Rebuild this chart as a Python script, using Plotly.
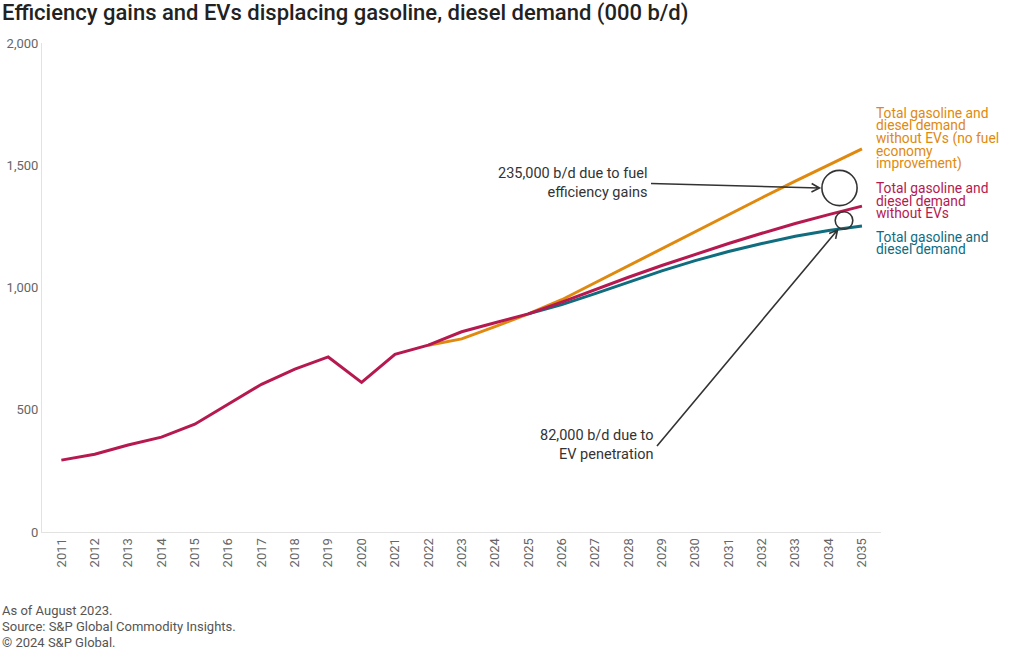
import numpy as np
import plotly.graph_objects as go

# ---------------- data ----------------
years_hist = [2011, 2012, 2013, 2014, 2015, 2016, 2017, 2018, 2019, 2020, 2021, 2022, 2023, 2024, 2025]
red_hist = [294, 318, 356, 388, 441, 522, 604, 666, 716, 612, 727, 764, 819, 856, 892]

years_fut = [2026, 2027, 2028, 2029, 2030, 2031, 2032, 2033, 2034, 2035]
red_fut = [940, 992, 1042, 1090, 1136, 1180, 1222, 1262, 1298, 1333]

orange_years = [2022, 2023, 2024, 2025, 2026, 2027, 2028, 2029, 2030, 2031, 2032, 2033, 2034, 2035]
orange_vals = [764, 790, 840, 892, 950, 1020, 1090, 1160, 1228, 1298, 1367, 1435, 1502, 1567]

teal_years = [2025, 2026, 2027, 2028, 2029, 2030, 2031, 2032, 2033, 2034, 2035]
teal_vals = [892, 930, 975, 1023, 1068, 1110, 1147, 1180, 1210, 1233, 1252]

x_ticks = list(range(2011, 2036))
y_ticks = [0, 500, 1000, 1500, 2000]
y_ticklabels = ["0", "500", "1,000", "1,500", "2,000"]

title = "Efficiency gains and EVs displacing gasoline, diesel demand (000 b/d)"
footer = ["As of August 2023.", "Source: S&P Global Commodity Insights.", "\u00a9 2024 S&P Global."]
label_orange = ["Total gasoline and", "diesel demand", "without EVs (no fuel", "economy", "improvement)"]
label_red = ["Total gasoline and", "diesel demand", "without EVs"]
label_teal = ["Total gasoline and", "diesel demand"]

ORANGE = "#E0890F"
RED = "#B5194F"
TEAL = "#0F6D7F"
DARK = "#333333"
FONT = "Roboto"

# ---------------- geometry helpers (pixels -> paper) ----------------
L, R, T, B = 42, 881, 43, 532
W, H = R - L, B - T


def px(xp):
    return (xp - L) / W


def py(yp):
    return (B - yp) / H


red_years = years_hist + years_fut
red_vals = red_hist + red_fut

fig = go.Figure()
fig.add_trace(go.Scatter(x=orange_years, y=orange_vals, mode="lines",
                         line=dict(color=ORANGE, width=3), hoverinfo="skip"))
fig.add_trace(go.Scatter(x=teal_years, y=teal_vals, mode="lines",
                         line=dict(color=TEAL, width=3), hoverinfo="skip"))
fig.add_trace(go.Scatter(x=red_years, y=red_vals, mode="lines",
                         line=dict(color=RED, width=3), hoverinfo="skip"))

annotations = []
shapes = []

# title
annotations.append(dict(text=title, x=px(0), y=py(13), xref="paper", yref="paper",
                        xanchor="left", yanchor="middle", showarrow=False,
                        font=dict(family=FONT, size=22, color="#222222", weight=500)))

# footer
for i, line in enumerate(footer):
    annotations.append(dict(text=line, x=px(0), y=py(610 + 16 * i), xref="paper", yref="paper",
                            xanchor="left", yanchor="middle", showarrow=False,
                            font=dict(family=FONT, size=13, color="#555555")))

# right-hand series labels (one annotation per line for tight leading)
for lines, color, y0, step in [(label_orange, ORANGE, 112.5, 12.8),
                               (label_red, RED, 188.5, 12.3),
                               (label_teal, TEAL, 237, 12.3)]:
    for i, line in enumerate(lines):
        annotations.append(dict(text=line, x=px(874), y=py(y0 + step * i), xref="paper", yref="paper",
                                xanchor="left", yanchor="middle", showarrow=False,
                                font=dict(family=FONT, size=13.8, color=color)))

# callout texts
annotations.append(dict(text="235,000 b/d due to fuel<br>efficiency gains", x=px(649), y=py(183),
                        xref="paper", yref="paper", xanchor="right", yanchor="middle", align="right",
                        showarrow=False, font=dict(family=FONT, size=14.5, color=DARK)))
annotations.append(dict(text="82,000 b/d due to<br>EV penetration", x=px(655), y=py(445),
                        xref="paper", yref="paper", xanchor="right", yanchor="middle", align="right",
                        showarrow=False, font=dict(family=FONT, size=14.5, color=DARK)))

# circles
for cx, cy, r in [(839.5, 188, 17.6), (844, 220.5, 8.8)]:
    shapes.append(dict(type="circle", xref="paper", yref="paper",
                       x0=px(cx - r), x1=px(cx + r), y0=py(cy + r), y1=py(cy - r),
                       line=dict(color=DARK, width=1.6)))


# arrows with open chevron heads
def arrow(x1, y1, x2, y2, head=9, ang=28):
    d = np.array([x2 - x1, y2 - y1], dtype=float)
    d /= np.linalg.norm(d)
    pts = []
    for s in (1, -1):
        a = np.deg2rad(ang) * s
        rot = np.array([[np.cos(a), -np.sin(a)], [np.sin(a), np.cos(a)]])
        back = rot @ (-d) * head
        pts.append((x2 + back[0], y2 + back[1]))
    path = (f"M {px(x1)},{py(y1)} L {px(x2)},{py(y2)} "
            f"M {px(pts[0][0])},{py(pts[0][1])} L {px(x2)},{py(y2)} L {px(pts[1][0])},{py(pts[1][1])}")
    return dict(type="path", xref="paper", yref="paper", path=path,
                line=dict(color=DARK, width=1.6))


shapes.append(arrow(651, 183.5, 819.5, 188))
shapes.append(arrow(657, 446, 837.5, 230))

fig.update_layout(
    width=1020, height=650,
    margin=dict(l=L, r=1020 - R, t=T, b=650 - B, autoexpand=False),
    paper_bgcolor="white", plot_bgcolor="white",
    showlegend=False,
    font=dict(family=FONT, size=13, color="#666666"),
    xaxis=dict(range=[2010.42, 2035.57], tickvals=x_ticks, ticktext=[str(v) for v in x_ticks],
               tickangle=-90, showgrid=False, zeroline=False, showline=True,
               linecolor="#e2e2e2", linewidth=1, ticks="", automargin=False,
               tickfont=dict(family=FONT, size=13, color="#666666")),
    yaxis=dict(range=[0, 2000], tickvals=y_ticks, ticktext=y_ticklabels,
               showgrid=False, zeroline=False, showline=True,
               linecolor="#e2e2e2", linewidth=1, ticks="", automargin=False,
               tickfont=dict(family=FONT, size=13, color="#666666")),
    annotations=annotations,
    shapes=shapes,
)

fig.write_html("out.html")
